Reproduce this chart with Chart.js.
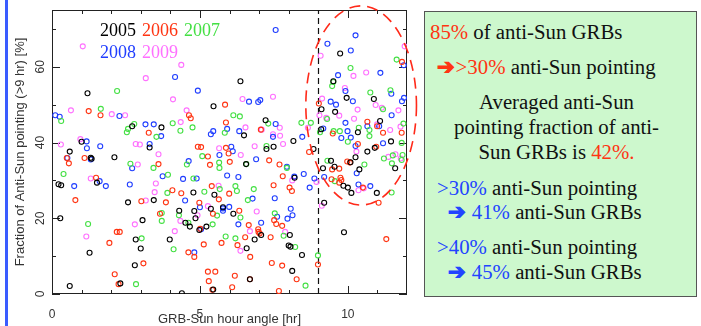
<!DOCTYPE html>
<html><head><meta charset="utf-8">
<script src="https://cdn.jsdelivr.net/npm/chart.js@4"></script>
<style>
html,body{margin:0;padding:0;background:#fff;width:701px;height:326px;overflow:hidden;position:relative}
#wrap{position:absolute;left:0;top:0;width:420px;height:326px}
#bar{position:absolute;left:5px;top:0;width:2.5px;height:326px;background:#3a5cff}
#legend{position:absolute;left:100px;top:19px;font-family:'Liberation Serif',serif;font-size:18px;line-height:22px;width:200px;white-space:nowrap}
#legend span{margin-right:6px;display:inline-block}
#box{position:absolute;left:424px;top:11px;width:271px;height:284px;background:#cdf8cd;border:1px solid #555;font-family:'Liberation Serif',serif;font-size:20.8px;color:#111}
#box div{position:absolute;line-height:24px;white-space:nowrap}
.r{color:#ff3412}.b{color:#2244ff}
.ar{font-family:'DejaVu Sans',sans-serif;font-weight:bold;font-size:21px;-webkit-text-stroke:1.2px currentColor;display:inline-block;margin-right:1px}
</style></head>
<body>
<div id="bar"></div>
<div id="wrap"><canvas id="c" width="420" height="326"></canvas></div>
<div id="legend"></div>
<div id="box">
 <div style="left:5px;top:8px"><span class="r">85%</span> of anti-Sun GRBs</div>
 <div style="left:12px;top:43px"><span class="r ar">➔</span><span class="r">&gt;30%</span> anti-Sun pointing</div>
 <div style="left:0;width:263px;text-align:center;top:78px">Averaged anti-Sun</div>
 <div style="left:0;width:263px;text-align:center;top:103px">pointing fraction of anti-</div>
 <div style="left:0;width:263px;text-align:center;top:128px">Sun GRBs is <span class="r">42%.</span></div>
 <div style="left:12px;top:164px"><span class="b">&gt;30%</span> anti-Sun pointing</div>
 <div style="left:23px;top:188px"><span class="b ar">➔</span> <span class="b">41%</span> anti-Sun GRBs</div>
 <div style="left:12px;top:223px"><span class="b">&gt;40%</span> anti-Sun pointing</div>
 <div style="left:23px;top:248px"><span class="b ar">➔</span> <span class="b">45%</span> anti-Sun GRBs</div>
</div>
<script>
const years = ['2005','2006','2007','2008','2009'];
const colors = ['#000000','#ff3412','#44e044','#1f3dff','#ff70ff'];
const xTickLabels = [0,5,10];
const yTickLabels = [0,20,40,60];
const xMinorTicks = [1,2,3,4,6,7,8,9,11];
const yMinorTicks = [10,30,50,70];

const pts2005 = [[0.22,29],[0.31,28.7],[0.6,37.6],[0.28,20],[0.6,2.1],[1.0,40.2],[1.2,53],[1.27,10.9],[1.31,36],[1.34,35.7],[1.52,29.4],[2.11,36.1],[2.31,2.8],[2.57,24.2],[2.71,44.3],[2.8,7.6],[2.83,14.4],[3.0,12],[3.06,19.5],[3.3,38.7],[3.44,24.8],[3.7,44],[3.98,14.4],[4.3,22],[4.39,0.2],[4.51,18.8],[4.66,17.8],[4.78,26.8],[4.81,21.9],[4.85,20],[4.98,16.9],[5.22,17.8],[5.37,22.5],[5.46,49.6],[5.45,1.2],[5.49,26.2],[5.78,22.9],[6.13,21.2],[6.37,56.2],[6.49,41.9],[6.56,34.3],[6.58,12.1],[6.69,3.9],[6.85,14.4],[7.07,15.6],[7.22,45.9],[7.25,38.3],[7.49,38.9],[8.0,12.8],[8.04,15.6],[8.06,12.5],[8.12,6.1],[8.16,40.4],[8.2,30.7],[8.45,10.3],[8.84,38.3],[9.11,48.8],[9.1,43.5],[9.16,33.2],[9.2,24.1],[9.43,35.2],[9.51,56.2],[9.55,33.6],[9.57,48.1],[9.74,63.5],[9.85,28.6],[9.87,16.3],[9.96,51.8],[10.0,28.1],[10.09,34.8],[10.12,26.7],[10.26,36.1],[10.34,42.7],[10.39,32.9],[10.66,37.6],[10.88,51.5],[10.91,38.6],[10.98,26.7],[11.09,45.7],[11.46,40.3],[11.6,33.2]];
const pts2006 = [[0.5,35.9],[0.57,34.5],[0.79,24.8],[1.1,35.9],[1.24,48.3],[1.49,30.7],[1.64,47.2],[1.94,13.5],[2.12,5.2],[2.19,16.4],[2.29,16.4],[2.25,2.6],[3.02,24.5],[3.09,8.1],[3.27,42.6],[3.6,34.3],[3.65,21.2],[3.85,24.2],[4.07,27.4],[4.37,26.6],[4.63,47.2],[4.69,46.4],[4.61,11],[4.81,9.8],[4.93,38.9],[5.04,38.8],[5.01,17.2],[4.98,24.1],[5.13,13.1],[5.27,5.9],[5.3,3.4],[5.27,36.3],[5.34,34.1],[5.4,28.5],[5.44,21.2],[5.42,1.1],[5.52,5.9],[5.64,25],[5.73,13.5],[5.85,50],[5.88,45.3],[5.88,38.6],[5.99,26.5],[6.01,34.9],[5.97,37.1],[6.09,1.8],[6.18,4.8],[6.27,12.9],[6.33,22],[6.53,15],[6.65,18.2],[6.7,9.8],[6.69,3.9],[6.97,17.1],[6.98,16.4],[7.02,16],[7.06,43.4],[7.34,35.3],[7.39,15],[7.43,8.2],[7.49,28.7],[7.51,19.5],[7.58,18.5],[7.67,0.8],[7.69,34.2],[7.78,18],[7.78,7.5],[7.8,31.1],[8.03,28.1],[8.11,27.2],[8.27,3.9],[8.69,37.5],[8.99,7.8],[9.02,50.3],[9.45,30.3],[9.49,42.4],[9.47,32.9],[9.71,33.1],[9.71,29.4],[9.75,30.7],[9.78,30.1],[9.98,35],[10.07,34.7],[10.34,39.6],[10.51,28.1],[10.66,45.5],[10.96,38.9],[10.99,44.3],[11.04,24.1],[11.19,42.6],[11.3,14.5],[11.82,42.6],[11.83,61.3]];
const pts2007 = [[0.31,45.7],[0.39,31.7],[1.22,18.5],[1.65,48.9],[2.2,53.6],[2.53,42.7],[2.57,43.6],[2.65,34.4],[2.78,44.9],[2.84,2.6],[3.03,14.7],[3.43,33.3],[3.53,41.5],[3.71,21.4],[3.71,19.3],[3.9,26.7],[3.92,31.5],[4.08,45.1],[4.11,11.8],[4.29,20.8],[4.34,43.1],[4.56,34.2],[4.61,18.8],[4.75,44],[4.78,30.5],[5.08,36.4],[5.15,27],[5.43,18.4],[5.58,20.7],[5.65,34.7],[5.66,33.3],[5.67,27.7],[5.84,42.6],[5.87,15.2],[6.13,47.2],[6.2,28.5],[6.2,14.7],[6.25,27.2],[6.35,46.9],[6.37,20.2],[6.57,34.3],[6.62,24.8],[6.82,27.7],[7.25,39.1],[7.31,45],[7.53,21.3],[7.83,15.4],[7.94,33.3],[8.22,12.4],[8.43,45.2],[8.57,2.2],[8.75,45.2],[8.99,10.2],[9.06,42.7],[9.3,46.2],[9.31,35.2],[9.47,54.9],[9.51,56],[9.56,29.8],[9.52,43],[9.73,43],[10.0,40.2],[10.09,59.7],[10.37,43.9],[10.56,34.2],[10.73,43.3],[10.73,41.7],[10.76,53.2],[11.19,48.8],[11.22,35.8],[11.44,53.8],[11.48,26.8],[11.52,36.6],[11.49,34.5],[11.65,61.9],[11.82,39.9],[11.85,36.7],[11.88,45],[11.82,35.4]];
const pts2008 = [[0.11,47.2],[0.26,46.8],[0.52,35.9],[0.75,28.5],[1.17,40.3],[1.18,38.5],[1.31,35.5],[1.61,29.8],[1.63,39],[1.82,28.5],[2.28,47],[2.63,28.9],[2.71,33.2],[3.16,44.8],[3.3,39.6],[3.44,44.8],[3.69,41.7],[3.74,31.1],[4.16,57.3],[4.43,30.4],[4.5,24.7],[4.62,35.1],[4.81,11],[4.89,30.5],[4.93,53.7],[5.04,17.1],[5.0,22.9],[5.37,42.2],[5.45,43],[5.66,36.7],[5.78,22.6],[5.78,22],[5.92,43.6],[5.92,31.3],[5.99,23],[6.06,38.9],[6.11,37.7],[6.3,30.9],[6.3,18.4],[6.33,43],[6.66,50.8],[6.78,25.2],[6.9,35.6],[6.97,50.7],[7.04,51.2],[7.07,18.8],[7.47,41.5],[7.56,69.7],[7.56,44.9],[7.53,25.3],[7.61,20.4],[7.96,19.9],[7.94,33.6],[8.07,22.5],[8.13,20.8],[8.19,31],[8.46,41.5],[8.51,31.7],[8.71,28.1],[8.87,30.5],[9.17,43.7],[9.2,30.9],[9.31,66.1],[9.42,50.8],[9.6,50],[9.67,57.8],[9.78,41.2],[9.92,53.6],[9.92,45.2],[9.99,43],[10.1,64.3],[10.1,41.3],[10.17,50.9],[10.26,68.3],[10.26,39.1],[10.3,31.9],[10.36,28.9],[10.66,44.3],[10.76,28.5],[11.1,58.4],[11.06,44.3],[11.19,39.8],[11.47,52.9],[11.48,47.2],[11.83,50.9],[11.9,51.8],[11.89,60.4]];
const pts2009 = [[0.3,39.5],[0.64,48.5],[0.96,40.9],[1.04,65.4],[1.16,15.2],[1.31,30.5],[2.02,47.5],[2.47,47.2],[2.8,18.4],[2.83,39.6],[2.97,39.5],[2.9,34.2],[3.17,57],[3.17,24.7],[3.51,29.2],[3.47,26.9],[3.6,36.9],[4.09,51.4],[4.15,16.6],[4.37,60.5],[4.35,45.4],[4.34,19.3],[4.55,48.5],[4.92,20.8],[5.27,23.2],[5.65,38.5],[5.63,28.6],[6.37,11.4],[6.38,36.7],[6.44,51.5],[6.54,44],[6.69,16.6],[6.85,39],[6.92,21.8],[7.09,43.4],[7.47,52.1],[7.47,42.2],[7.7,43.9],[7.71,41.8],[7.81,39.6],[7.88,16.4],[8.12,30],[8.65,43.9],[8.94,29.6],[9.08,62.9],[9.04,47.2],[9.13,51.6],[9.12,23.3],[9.27,46.5],[9.71,47.1],[9.9,54.4],[10.19,57.6],[10.21,46.3],[10.29,37.6],[10.33,48.7],[10.36,27.4],[10.54,27.9],[10.62,58.5],[10.94,49.9],[10.99,44.8],[11.15,49.2],[11.37,36.2],[11.43,43.3],[11.61,36.9],[11.71,48.5],[11.78,44.2],[11.92,65.4],[11.79,35.8]];
const series = [pts2005, pts2006, pts2007, pts2008, pts2009];

const cutLine = 9;            // dashed separator (hr)
const ellipseCenter = [10.45, 49.8];
const ellipseRadii = [1.87, 26.3];

// legend text
const lg = document.getElementById('legend');
years.forEach((yr,i)=>{
  const s=document.createElement('span'); s.textContent=yr; s.style.color=colors[i];
  lg.appendChild(s);
  if(i===2) lg.appendChild(document.createElement('br'));
});

const deco = {
  id:'deco',
  beforeDatasetsDraw(chart){
    const {ctx, chartArea:a, scales:{x,y}} = chart;
    ctx.save();
    ctx.strokeStyle='#222'; ctx.lineWidth=1;
    ctx.strokeRect(a.left+0.5, a.top+0.5, a.right-a.left-1, a.bottom-a.top-1);
    const line=(x1,y1,x2,y2)=>{ctx.beginPath();ctx.moveTo(x1,y1);ctx.lineTo(x2,y2);ctx.stroke();};
    const xt=(v,len)=>{const p=Math.round(x.getPixelForValue(v))+0.5; line(p,a.bottom,p,a.bottom-len); line(p,a.top,p,a.top+len);};
    const yt=(v,len)=>{const p=Math.round(y.getPixelForValue(v))+0.5; line(a.left,p,a.left+len,p); line(a.right,p,a.right-len,p);};
    xTickLabels.forEach(v=>xt(v,8)); xMinorTicks.forEach(v=>xt(v,4));
    yTickLabels.forEach(v=>yt(v,8)); yMinorTicks.forEach(v=>yt(v,4));
    // y tick labels (rotated)
    ctx.fillStyle='#333'; ctx.font='12px "Liberation Sans", sans-serif';
    ctx.textAlign='center'; ctx.textBaseline='middle';
    yTickLabels.forEach(v=>{
      ctx.save(); ctx.translate(a.left-11.5, y.getPixelForValue(v)); ctx.rotate(-Math.PI/2);
      ctx.fillText(String(v),0,0); ctx.restore();
    });
    // dashed separator
    ctx.setLineDash([6,4]); ctx.lineWidth=1.2; ctx.strokeStyle='#111';
    const px=Math.round(x.getPixelForValue(cutLine))+0.5;
    line(px,a.bottom,px,a.top);
    ctx.restore();
  },
  afterDatasetsDraw(chart){
    const {ctx, scales:{x,y}} = chart;
    const cx=x.getPixelForValue(ellipseCenter[0]), cy=y.getPixelForValue(ellipseCenter[1]);
    const rx=x.getPixelForValue(ellipseCenter[0]+ellipseRadii[0])-cx;
    const ry=cy-y.getPixelForValue(ellipseCenter[1]+ellipseRadii[1]);
    ctx.save();
    ctx.strokeStyle='#ff2a1a'; ctx.lineWidth=1.6; ctx.setLineDash([11,7]);
    ctx.beginPath(); ctx.ellipse(cx,cy,rx,ry,0,0,Math.PI*2); ctx.stroke();
    ctx.restore();
  }
};

new Chart(document.getElementById('c'), {
  type:'scatter',
  data:{datasets: series.map((s,i)=>({
    label: years[i],
    data: s.map(p=>({x:p[0], y:p[1]})),
    borderColor: colors[i], backgroundColor:'rgba(0,0,0,0)',
    pointRadius:2.5, pointBorderWidth:1.1, pointHoverRadius:2.5
  }))},
  options:{
    responsive:false, animation:false, devicePixelRatio:1,
    layout:{padding:{left:0, top:10, right:13, bottom:0}},
    plugins:{legend:{display:false}, tooltip:{enabled:false}},
    scales:{
      x:{type:'linear', min:0, max:12,
        afterBuildTicks:s=>{s.ticks=xTickLabels.map(v=>({value:v}));},
        afterFit:s=>{s.height=32;},
        grid:{display:false}, border:{display:false},
        ticks:{padding:5, color:'#333', maxRotation:0, autoSkip:false, font:{family:'"Liberation Sans", sans-serif', size:12}},
        title:{display:true, text:'GRB-Sun hour angle [hr]', color:'#333', padding:{top:0,bottom:0},
          font:{family:'"Liberation Sans", sans-serif', size:13, lineHeight:1}}
      },
      y:{type:'linear', min:0, max:75,
        afterBuildTicks:s=>{s.ticks=yTickLabels.map(v=>({value:v}));},
        afterFit:s=>{s.width=52;},
        grid:{display:false}, border:{display:false},
        ticks:{display:false},
        title:{display:true, text:'Fraction of Anti-Sun pointing (>9 hr) [%]', color:'#333', padding:{top:14,bottom:0},
          font:{family:'"Liberation Sans", sans-serif', size:13, lineHeight:1}}
      }
    }
  },
  plugins:[deco]
});
</script>
</body></html>
